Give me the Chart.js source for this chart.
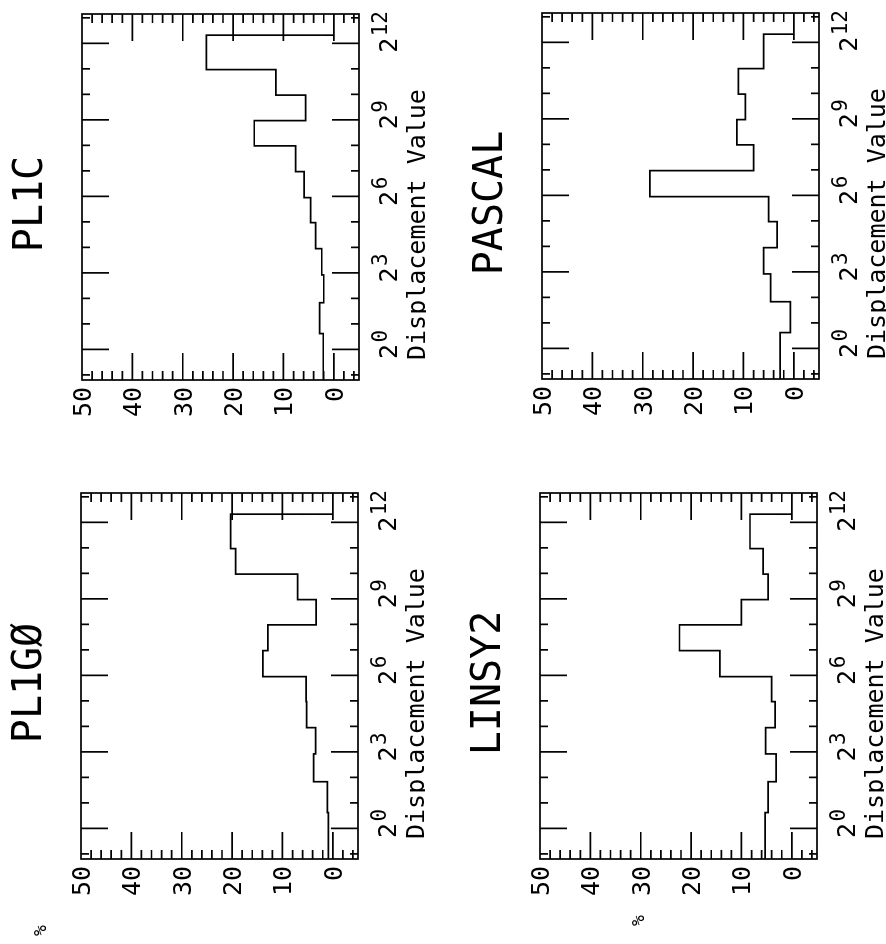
<!DOCTYPE html>
<html lang="en">
<head>
<meta charset="UTF-8">
<title>Displacement Value histograms</title>
<script src="https://cdn.jsdelivr.net/npm/chart.js"></script>
<style>
  html, body { margin: 0; padding: 0; background: #fff; }
  body { width: 886px; height: 944px; overflow: hidden; position: relative; }
  /* the plots are drawn upright, then the whole sheet is turned a quarter turn */
  #sheet { position: absolute; left: 0; top: 0; width: 944px; height: 886px;
           transform-origin: 0 0; transform: translateY(944px) rotate(-90deg); }
  #sheet canvas { position: absolute; }
</style>
</head>
<body>
<div id="sheet">
  <canvas id="pl1g0" width="460" height="420" style="left:5px;top:5px"></canvas>
  <canvas id="pl1c" width="460" height="420" style="left:484px;top:6px"></canvas>
  <canvas id="linsy2" width="460" height="420" style="left:5px;top:464px"></canvas>
  <canvas id="pascal" width="460" height="420" style="left:485px;top:466px"></canvas>
</div>
<script>
// bin starts on the log2 axis (exponent of the displacement), last bin ends at binEnd
const binStarts = [-1.2, 0.62, 1.83, 2.92, 3.95, 4.97, 5.95, 6.97, 7.98, 8.97, 9.97, 10.97];
const binEnd = 12.32;

// percent of displacements per bin
const pl1g0  = [0.9, 1.1, 3.8, 3.4, 5.2, 5.3, 13.9, 12.9, 3.3, 7.0, 19.3, 20.3];
const pl1c   = [2.1, 2.8, 2.0, 2.4, 3.6, 4.6, 5.9, 7.6, 15.8, 5.6, 11.5, 25.3];
const linsy2 = [5.3, 4.7, 3.1, 5.2, 3.3, 4.0, 14.3, 22.3, 10.0, 4.7, 5.7, 8.3];
const pascal = [2.7, 0.7, 4.6, 6.0, 3.3, 5.0, 28.6, 8.0, 11.3, 9.6, 11.0, 6.0];

const exponentLabels = [0, 3, 6, 9, 12];
const percentLabels = [0, 10, 20, 30, 40, 50];

const MONO = '"DejaVu Sans Mono", monospace';

// plotter style frame: box, inward ticks on all four sides, labels and titles
const plotterFrame = {
    id: 'plotterFrame',
    afterDraw(chart, args, opts) {
        const ctx = chart.ctx;
        const a = chart.chartArea;
        const x = chart.scales.x;
        const y = chart.scales.y;
        ctx.save();
        ctx.strokeStyle = '#000';
        ctx.fillStyle = '#000';
        ctx.lineWidth = 1.7;
        ctx.strokeRect(a.left, a.top, a.right - a.left, a.bottom - a.top);

        ctx.beginPath();
        for (let e = Math.ceil(x.min); e <= x.max; e++) {
            const px = x.getPixelForValue(e);
            const len = exponentLabels.includes(e) ? 27 : 8;
            ctx.moveTo(px, a.bottom); ctx.lineTo(px, a.bottom - len);
            ctx.moveTo(px, a.top); ctx.lineTo(px, a.top + len);
        }
        for (let v = Math.ceil(y.min / 2) * 2; v < y.max; v += 2) {
            const py = y.getPixelForValue(v);
            const len = v % 10 === 0 ? 27 : 9;
            ctx.moveTo(a.left, py); ctx.lineTo(a.left + len, py);
            ctx.moveTo(a.right, py); ctx.lineTo(a.right - len, py);
        }
        ctx.stroke();

        // value labels
        ctx.font = '25px ' + MONO;
        ctx.textAlign = 'right';
        ctx.textBaseline = 'alphabetic';
        percentLabels.forEach(v => {
            ctx.fillText(String(v), a.left - 7, y.getPixelForValue(v) + 9);
        });

        // 2^n labels
        exponentLabels.forEach(e => {
            const px = x.getPixelForValue(e);
            ctx.font = '25px ' + MONO;
            ctx.textAlign = 'center';
            ctx.fillText('2', px - 2, a.bottom + 38);
            ctx.font = '21px ' + MONO;
            ctx.textAlign = 'left';
            ctx.fillText(String(e), px + 7, a.bottom + 28);
        });

        ctx.font = '25px ' + MONO;
        ctx.textAlign = 'left';
        ctx.fillText('Displacement Value', a.left + 20, a.bottom + 66);

        ctx.font = '40px ' + MONO;
        ctx.textAlign = 'center';
        ctx.fillText(opts.title, (a.left + a.right) / 2 - 7, a.top - 40);

        if (opts.percent) {
            ctx.font = '18px ' + MONO;
            ctx.textAlign = 'left';
            ctx.fillText('%', a.left + opts.percent[0], a.top + opts.percent[1]);
        }
        ctx.restore();
    }
};

const panels = [
    { id: 'pl1g0', title: 'PL1GØ', values: pl1g0, percent: [-77, -35] },
    { id: 'pl1c', title: 'PL1C', values: pl1c },
    { id: 'linsy2', title: 'LINSY2', values: linsy2, percent: [-67, 104] },
    { id: 'pascal', title: 'PASCAL', values: pascal }
];

panels.forEach(p => {
    const points = p.values.map((v, i) => ({ x: binStarts[i], y: v }));
    points.push({ x: binEnd, y: 0 });

    new Chart(document.getElementById(p.id), {
        type: 'line',
        data: {
            datasets: [{
                label: p.title,
                data: points,
                borderColor: '#000',
                borderWidth: 1.7,
                pointRadius: 0,
                stepped: 'before',
                fill: false
            }]
        },
        options: {
            responsive: false,
            animation: false,
            layout: { padding: { left: 80, top: 76, right: 14, bottom: 67 } },
            scales: {
                x: { type: 'linear', min: -1.2, max: 13.15, display: false },
                y: { type: 'linear', min: -5, max: 50, display: false }
            },
            plugins: {
                legend: { display: false },
                tooltip: { enabled: false },
                plotterFrame: { title: p.title, percent: p.percent }
            }
        },
        plugins: [plotterFrame]
    });
});
</script>
</body>
</html>
